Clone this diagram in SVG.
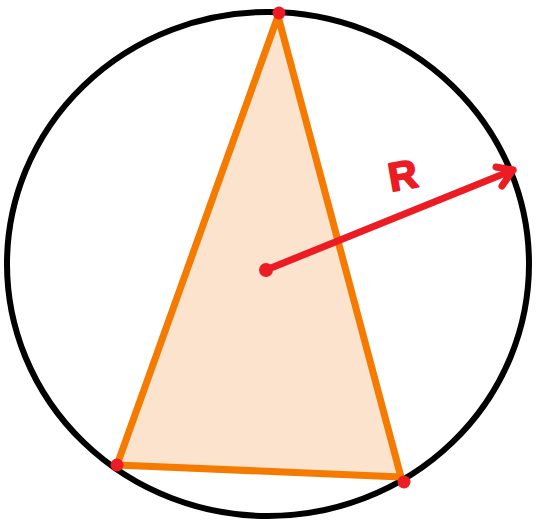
<svg xmlns="http://www.w3.org/2000/svg" width="540" height="520" viewBox="0 0 540 520">
<style>
.dot{fill:#EC1C24}
.red{stroke:#EC1C24;stroke-width:7;stroke-linecap:round;stroke-linejoin:round;fill:none}
</style>
<rect width="540" height="520" fill="#fff"/>
<g id="circle"><ellipse cx="268" cy="264" rx="261" ry="252" fill="none" stroke="#000" stroke-width="6"/></g>
<g id="triangle"><polygon points="278,16 117,465 401,477" fill="#FBE3CE" stroke="#F57A00" stroke-width="7" stroke-linejoin="round"/></g>
<g id="connectors">
<line class="red" x1="266" y1="270" x2="513" y2="170"/>
<polyline class="red" points="496,167 513,170 502,186"/>
</g>
<g id="label"><text x="388" y="188" font-family="Liberation Sans, sans-serif" font-weight="bold" font-size="40" fill="#EC1C24" stroke="#EC1C24" stroke-width="2" stroke-linejoin="round" transform="rotate(-10 410 172)">R</text></g>
<g id="points">
<circle class="dot" cx="279" cy="13" r="6.5"/>
<circle class="dot" cx="117" cy="465" r="6.5"/>
<circle class="dot" cx="404" cy="482" r="6.5"/>
<circle class="dot" cx="266" cy="270" r="7"/>
</g>
</svg>
